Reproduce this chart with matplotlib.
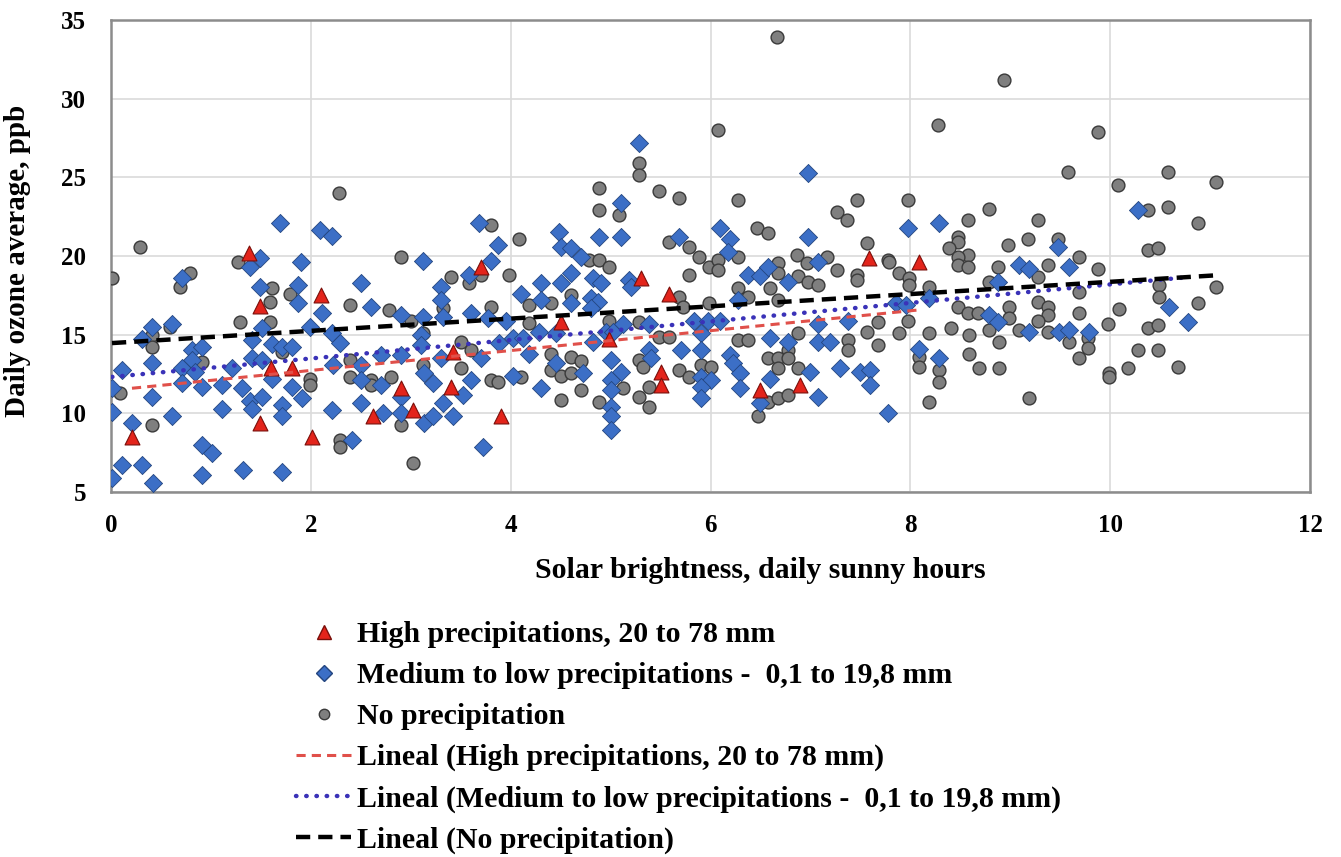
import numpy as np
import matplotlib
matplotlib.use("Agg")
import matplotlib.pyplot as plt
from matplotlib.lines import Line2D

# ---- data: daily sunny hours (x) vs daily ozone average in ppb (y) ----
high_x = [0.21, 1.38, 1.49, 1.49, 1.60, 1.81, 2.01, 2.10, 2.62, 2.90, 3.02, 3.40, 3.42,
          3.70, 3.90, 4.50, 4.98, 5.30, 5.50, 5.50, 5.58, 6.50, 6.90, 7.59, 8.09]
high_y = [8.5, 20.2, 16.8, 9.4, 12.9, 12.9, 8.5, 17.5, 9.8, 11.6, 10.2, 11.7, 13.9,
          19.3, 9.8, 15.8, 14.7, 18.6, 12.6, 11.8, 17.6, 11.5, 11.8, 19.9, 19.6]

medium_x = [1.69, 1.49, 1.39, 1.90, 0.71, 1.49, 1.87, 1.87, 0.41, 0.61, 1.51, 0.31, 0.81,
            0.91, 1.41, 1.61, 1.71, 1.81, 0.81, 0.41, 0.11, 0.71, 0.84, 1.41, 1.51, 1.21,
            0.01, 0.91, 1.11, 0.71, 1.31, 1.61, 1.81, 1.91, 0.41, 0.01, 0.61, 1.11, 1.39,
            1.51, 1.41, 1.71, 1.71, 0.21, 0.91, 1.01, 0.11, 0.31, 0.01, 0.42, 0.91, 1.32,
            1.71,
            2.09, 2.21, 3.12, 3.68, 3.80, 3.58, 2.50, 3.30, 3.30, 2.11, 2.60, 2.90, 3.12,
            3.32, 3.60, 3.77, 1.99, 2.21, 2.29, 3.10, 3.10, 2.22, 2.50, 2.70, 2.90, 3.30,
            3.70, 2.50, 2.70, 3.13, 3.22, 3.60, 3.52, 2.50, 2.90, 3.32, 2.21, 2.72, 2.90,
            3.13, 3.22, 3.42, 2.41, 3.72,
            5.28, 5.10, 4.88, 5.10, 4.48, 4.50, 3.87, 4.60, 4.70, 5.68, 4.60, 4.30, 4.50,
            4.82, 4.90, 5.18, 5.20, 4.10, 4.30, 4.80, 4.87, 3.95, 4.60, 4.28, 4.80, 4.95,
            5.12, 5.38, 3.88, 4.02, 4.12, 4.18, 4.45, 4.82, 5.02, 5.70, 5.38, 5.40, 5.00,
            4.45, 4.72, 4.02, 5.10, 5.00, 4.30, 5.00, 5.00, 5.00, 5.00,
            6.98, 6.10, 6.20, 6.98, 6.18, 7.08, 6.38, 6.50, 6.58, 6.78, 6.28, 5.83, 5.97,
            6.10, 7.08, 7.38, 5.90, 6.60, 6.78, 7.08, 7.20, 5.90, 6.20, 6.23, 6.30, 5.90,
            6.00, 6.60, 7.00, 7.30, 7.50, 7.60, 7.60, 5.90, 6.30, 5.90, 6.50, 7.08, 7.78,
            7.98, 8.29, 9.48, 9.09, 9.19, 9.59, 7.86, 7.96, 8.19, 8.88, 8.79, 8.88, 9.19,
            9.49, 9.59, 8.09, 8.29,
            10.28, 10.59, 10.78, 9.79]
medium_y = [22.1, 19.9, 19.3, 19.6, 18.6, 18.0, 18.15, 17.0, 15.5, 15.7, 15.4, 14.7, 14.0,
            14.2, 14.65, 14.4, 14.2, 14.2, 13.4, 13.2, 12.75, 12.9, 12.6, 13.5, 13.4, 12.9,
            11.6, 11.7, 11.8, 11.9, 11.6, 12.2, 11.7, 11.0, 11.05, 10.1, 9.8, 10.3, 10.8,
            11.05, 10.3, 10.5, 9.8, 9.4, 8.0, 7.5, 6.7, 6.7, 5.9, 5.6, 6.1, 6.4,
            6.3,
            21.65, 21.3, 19.7, 22.1, 19.7, 18.8, 18.3, 18.0, 17.2, 16.4, 16.75, 16.25, 16.1,
            16.1, 16.4, 16.05, 15.5, 15.1, 14.5, 15.0, 14.35, 13.1, 13.1, 13.7, 13.7, 13.5,
            13.5, 12.1, 11.8, 12.55, 11.9, 12.1, 11.15, 10.65, 11.05, 10.65, 10.2, 10.0, 10.0,
            9.4, 9.8, 9.8, 8.3, 7.85,
            27.2, 23.4, 21.2, 21.2, 21.5, 20.6, 20.7, 20.5, 19.95, 21.2, 18.9, 18.3, 18.3,
            18.6, 18.3, 18.5, 18.0, 17.6, 17.2, 17.3, 17.1, 15.9, 17.0, 15.2, 16.7, 15.2,
            15.7, 15.7, 14.5, 14.8, 14.8, 13.8, 15.1, 14.55, 15.2, 14.0, 14.0, 13.5, 13.4,
            13.2, 12.55, 12.4, 12.6, 12.1, 11.6, 11.5, 10.4, 9.8, 8.95,
            25.3, 21.8, 21.1, 21.2, 20.25, 19.6, 18.8, 18.7, 19.3, 18.35, 17.2, 15.9, 15.9,
            15.9, 15.7, 15.9, 15.1, 14.8, 14.55, 14.55, 14.55, 14.0, 13.7, 13.2, 12.55, 12.3,
            12.1, 12.2, 12.6, 12.9, 12.6, 12.75, 11.8, 11.7, 11.6, 11.0, 10.65, 11.05, 10.0,
            21.8, 22.1, 20.6, 19.4, 19.2, 19.3, 17.0, 16.9, 17.3, 18.35, 16.25, 15.8, 15.2,
            15.2, 15.3, 14.1, 13.5,
            22.9, 16.75, 15.8, 15.2]

none_x = [0.29, 0.01, 0.79, 0.69, 1.27, 1.61, 1.59, 1.79, 0.59, 0.41, 0.41, 1.29, 1.59,
          0.91, 1.71, 0.09, 0.41,
          2.28, 2.90, 3.80, 3.40, 3.58, 3.70, 2.39, 2.78, 3.32, 3.80, 3.00, 3.12, 1.99,
          1.99, 2.39, 2.39, 2.60, 2.60, 2.80, 3.12, 3.50, 3.50, 3.60, 3.80, 2.90, 2.29,
          2.29, 3.02,
          5.28, 5.28, 4.88, 4.88, 5.08, 5.48, 5.68, 4.08, 5.58, 5.78, 3.98, 4.78, 4.88,
          4.98, 5.78, 4.18, 4.40, 4.60, 4.18, 4.98, 5.28, 5.68, 5.72, 5.48, 5.58, 4.40,
          4.60, 4.70, 4.40, 4.50, 4.60, 4.10, 5.28, 5.32, 5.68, 5.78, 5.12, 4.70, 5.28,
          5.38, 5.38, 4.50, 4.88, 3.87,
          6.28, 7.47, 7.27, 7.37, 6.47, 6.58, 7.57, 5.88, 5.98, 6.08, 6.28, 6.08, 6.68,
          6.68, 6.87, 6.97, 7.17, 7.27, 7.47, 7.78, 6.88, 6.98, 7.08, 7.47, 6.60, 6.28,
          6.38, 5.98, 6.68, 7.68, 7.57, 6.28, 6.38, 6.88, 6.78, 7.38, 7.38, 7.68, 6.58,
          6.68, 6.68, 6.78, 6.88, 5.90, 6.00, 6.58, 6.68, 6.78, 6.48,
          6.67, 6.08, 8.94, 8.28, 9.88,
          9.58, 7.98, 8.79, 8.58, 9.28, 8.48, 8.48, 8.39, 8.58, 8.48, 8.48, 8.58, 8.98,
          9.18, 9.48, 9.69, 7.79, 8.88, 9.38, 7.89, 7.99, 7.99, 8.79, 9.28, 8.19, 9.69,
          9.28, 9.38, 9.38, 9.69, 8.48, 8.58, 8.68, 8.99, 8.99, 7.98, 8.41, 8.19, 7.89,
          8.59, 8.79, 9.09, 9.28, 9.38, 9.59, 8.89, 8.59, 8.09, 8.09, 8.29, 8.29, 8.69,
          8.89, 9.69, 8.19, 9.19,
          10.58, 11.06, 10.08, 10.38, 10.58, 10.88, 10.38, 10.48, 9.88, 11.06, 10.49,
          10.49, 10.09, 10.88, 9.98, 10.38, 10.48, 9.78, 9.78, 10.28, 10.48, 10.18, 9.99,
          9.99, 10.68]
none_y = [20.6, 18.6, 18.9, 18.0, 19.6, 17.95, 17.1, 17.6, 15.5, 15.0, 14.2, 15.8, 15.8,
          13.25, 13.9, 11.3, 9.25,
          24.0, 19.95, 21.95, 18.65, 18.3, 18.8, 16.9, 16.55, 16.7, 16.75, 15.9, 15.1, 12.2,
          11.8, 13.4, 12.3, 12.1, 11.8, 12.3, 13.05, 14.55, 12.9, 14.0, 12.1, 9.25, 8.3,
          7.85, 6.85,
          25.9, 25.15, 24.3, 22.9, 22.6, 24.1, 23.7, 21.1, 20.9, 20.6, 18.8, 19.75, 19.75,
          19.3, 18.8, 16.9, 17.0, 17.5, 15.75, 15.9, 15.8, 17.4, 16.75, 14.85, 14.85, 13.8,
          13.6, 13.3, 12.75, 12.4, 12.55, 12.3, 13.4, 12.95, 12.75, 12.3, 11.6, 11.5, 11.05,
          11.7, 10.4, 10.85, 10.7, 12.0,
          23.55, 23.55, 22.8, 22.3, 21.8, 21.45, 20.8, 19.95, 19.3, 19.75, 19.95, 19.1, 19.55,
          18.9, 20.05, 19.55, 19.95, 19.1, 18.8, 19.75, 18.7, 18.35, 18.15, 18.45, 17.95, 17.95,
          17.4, 17.0, 17.2, 15.8, 15.2, 14.65, 14.65, 15.1, 14.0, 14.65, 14.0, 14.35, 13.5,
          13.5, 12.9, 13.5, 12.9, 13.05, 12.95, 10.7, 10.95, 11.15, 9.8,
          33.9, 28.0, 31.2, 28.3, 27.9,
          25.35, 23.55, 23.0, 22.3, 22.3, 21.2, 20.9, 20.5, 20.05, 19.95, 19.45, 19.3, 20.7,
          21.1, 21.1, 19.95, 19.6, 19.3, 19.45, 18.9, 18.6, 18.15, 18.35, 18.65, 18.0, 17.7,
          17.1, 16.75, 16.25, 16.4, 16.75, 16.4, 16.4, 16.75, 16.05, 15.9, 15.4, 15.1, 15.1,
          15.0, 15.3, 15.3, 15.9, 15.2, 14.55, 14.55, 13.8, 13.6, 12.95, 12.75, 12.0, 12.9,
          12.9, 13.5, 10.7, 10.95,
          25.35, 24.7, 24.5, 22.9, 23.1, 22.1, 20.4, 20.5, 19.2, 18.0, 18.15,
          17.4, 16.6, 17.0, 15.7, 15.4, 15.6, 14.8, 14.15, 14.0, 14.0, 12.9, 12.55,
          12.3, 12.95]

labels = ["High precipitations, 20 to 78 mm",
          "Medium to low precipitations -  0,1 to 19,8 mm",
          "No precipitation"]
x_title = "Solar brightness, daily sunny hours"
y_title = "Daily ozone average, ppb"

# ---- styling ----
SERIF = ["Liberation Serif", "DejaVu Serif"]
RED, RED_EDGE = "#E3241B", "#7A0F0A"
BLUE, BLUE_EDGE = "#3C6FC6", "#23457F"
GRAY, GRAY_EDGE = "#7F7F7F", "#3A3A3A"

fig = plt.figure(figsize=(13.41, 8.57), dpi=100)
ax = fig.add_axes([111 / 1341, 1 - 492 / 857, 1199 / 1341, 472 / 857])

ax.set_xlim(0, 12)
ax.set_ylim(5, 35)
ax.set_xticks(np.arange(0, 13, 2))
ax.set_yticks(np.arange(5, 36, 5))
ax.grid(True, color="#DADADA", linewidth=1.2, zorder=0)
ax.set_axisbelow(True)
for sp in ax.spines.values():
    sp.set_color("#8C8C8C")
    sp.set_linewidth(1.8)
ax.tick_params(axis="x", length=0, pad=16, labelsize=18)
ax.tick_params(axis="y", length=0, pad=18, labelsize=18)
for lab in ax.get_xticklabels() + ax.get_yticklabels():
    lab.set_fontfamily(SERIF)
    lab.set_fontweight("bold")

# scatter series
ax.scatter(none_x, none_y, s=85, marker="o", c=GRAY, edgecolors=GRAY_EDGE,
           linewidths=1.0, zorder=3)
ax.scatter(medium_x, medium_y, s=85, marker="D", c=BLUE, edgecolors=BLUE_EDGE,
           linewidths=0.6, zorder=4)
ax.scatter(high_x, high_y, s=115, marker="^", c=RED, edgecolors=RED_EDGE,
           linewidths=0.8, zorder=5)

# least-squares linear trendlines over each series' range
def trend(xs, ys):
    xs = np.asarray(xs)
    k, b = np.polyfit(xs, np.asarray(ys), 1)
    xx = np.array([xs.min(), xs.max()])
    return xx, k * xx + b

tx, ty = trend(high_x, high_y)
ax.plot(tx, ty, color="#E0504A", lw=2.2, ls=(0, (3, 2)), zorder=6)
tx, ty = trend(medium_x, medium_y)
ax.plot(tx, ty, color="#3A32B8", lw=3.2, ls=(0, (0.1, 2.2)), dash_capstyle="round",
        zorder=6)
tx, ty = trend(none_x, none_y)
ax.plot(tx, ty, color="black", lw=3.2, ls=(0, (3.2, 1.8)), zorder=7)

ax.set_xlabel(x_title, fontsize=21.5, fontweight="bold", family=SERIF)
ax.xaxis.set_label_coords((760 - 111) / 1199, -0.138)
ax.set_ylabel(y_title, fontsize=21, fontweight="bold", family=SERIF)
ax.yaxis.set_label_coords(-0.067, 0.49)

# legend below the chart
handles = [
    Line2D([], [], ls="none", marker="^", ms=10, mfc=RED, mec=RED_EDGE),
    Line2D([], [], ls="none", marker="D", ms=8, mfc=BLUE, mec=BLUE_EDGE),
    Line2D([], [], ls="none", marker="o", ms=7.5, mfc=GRAY, mec=GRAY_EDGE),
    Line2D([], [], color="#E0504A", lw=2.2, ls=(0, (3, 2))),
    Line2D([], [], color="#3A32B8", lw=3.2, ls=(0, (0.1, 2.2)), dash_capstyle="round"),
    Line2D([], [], color="black", lw=3.2, ls=(0, (3.2, 1.8))),
]
leg_labels = labels + ["Lineal (" + l + ")" for l in labels]
fig.legend(handles, leg_labels, loc="upper left",
           bbox_to_anchor=(296 / 1341, 1 - 621 / 857), frameon=False,
           prop={"family": SERIF, "weight": "bold", "size": 21.5},
           handlelength=1.85, handletextpad=0.18, labelspacing=0.47,
           borderpad=0, borderaxespad=0)

fig.savefig("out.png", dpi=100, facecolor="white")
